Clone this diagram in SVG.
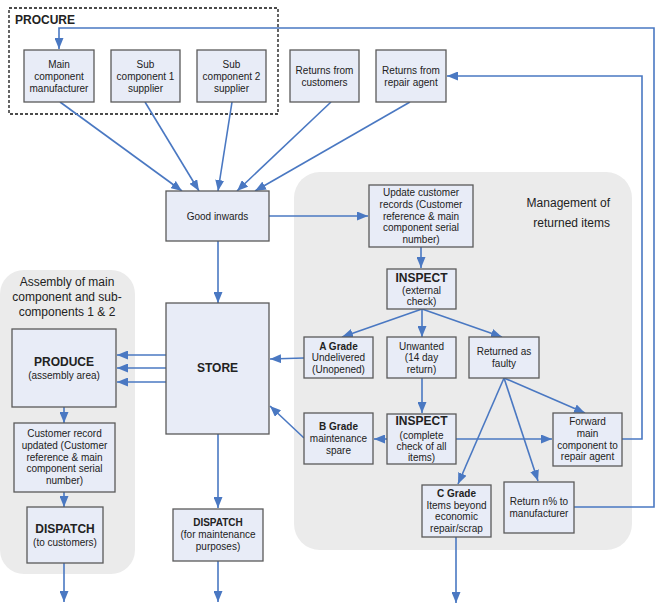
<svg xmlns="http://www.w3.org/2000/svg" width="658" height="612" viewBox="0 0 658 612">
<style>
.region{fill:#ebebeb;stroke:none}
.box{fill:#e8ecf7;stroke:#5a5a5a;stroke-width:1.3}
text{font-family:"Liberation Sans",Arial,sans-serif;fill:#222;text-anchor:middle}
.t{font-size:10px}
.tb{font-size:10px;font-weight:bold}
.h{font-size:12px;font-weight:bold}
.lbl{font-size:12px}
.c line,.c polyline{stroke:#4a78c2;stroke-width:1.6;fill:none;marker-end:url(#ah)}
</style>
<defs>
<marker id="ah" markerUnits="userSpaceOnUse" markerWidth="11" markerHeight="9" refX="11" refY="4.5" orient="auto">
<path d="M0,0 L11,4.5 L0,9 z" fill="#4a78c2"/>
</marker>
</defs>
<rect width="658" height="612" fill="#fff"/>
<g id="procure">
<rect x="9" y="8" width="269" height="106" fill="none" stroke="#111" stroke-width="1.3" stroke-dasharray="3,2"/>
<text class="h" x="15" y="24" style="text-anchor:start">PROCURE</text>
</g>
<g id="assembly-region">
<rect class="region" x="0" y="270" width="135" height="304" rx="24"/>
<text class="lbl" x="67" y="285.5">Assembly of main</text>
<text class="lbl" x="67" y="300.5">component and sub-</text>
<text class="lbl" x="67" y="315.5">components 1 &amp; 2</text>
</g>
<g id="management-region">
<rect class="region" x="294" y="172" width="338" height="378" rx="26"/>
<text class="lbl" x="610" y="207" style="text-anchor:end">Management of</text>
<text class="lbl" x="610" y="227" style="text-anchor:end">returned items</text>
</g>
<g class="c" id="connectors">
<line x1="60" y1="102" x2="182" y2="191"/>
<line x1="145" y1="102" x2="199" y2="191"/>
<line x1="232" y1="102" x2="218" y2="191"/>
<line x1="331" y1="102" x2="237" y2="191"/>
<line x1="410" y1="102" x2="255" y2="191"/>
<line x1="269" y1="216" x2="368" y2="216"/>
<line x1="218" y1="241" x2="218" y2="303"/>
<line x1="421" y1="247" x2="421" y2="268"/>
<line x1="422" y1="309" x2="342" y2="337"/>
<line x1="422" y1="309" x2="422" y2="337"/>
<line x1="422" y1="309" x2="502" y2="337"/>
<line x1="304" y1="358" x2="270" y2="359"/>
<line x1="166" y1="355" x2="117" y2="355"/>
<line x1="166" y1="368" x2="117" y2="368"/>
<line x1="166" y1="382" x2="117" y2="382"/>
<line x1="64" y1="407" x2="64" y2="423"/>
<line x1="64" y1="492" x2="64" y2="507"/>
<line x1="64" y1="563" x2="64" y2="602"/>
<line x1="218" y1="434" x2="218" y2="508"/>
<line x1="218" y1="561" x2="218" y2="602"/>
<line x1="422" y1="378" x2="422" y2="413"/>
<line x1="387" y1="439" x2="374" y2="439"/>
<line x1="304" y1="438" x2="270" y2="406"/>
<line x1="456" y1="439" x2="552" y2="439"/>
<line x1="504" y1="378" x2="585" y2="413"/>
<line x1="504" y1="378" x2="458" y2="484"/>
<line x1="504" y1="378" x2="538" y2="481"/>
<line x1="456" y1="537" x2="456" y2="603"/>
<polyline points="622,439 642,439 642,76 447,76"/>
<polyline points="574,507 654,507 654,28 59,28 59,49"/>
</g>
<g id="main-component-manufacturer">
<rect class="box" x="24" y="50" width="70" height="52"/>
<text class="t" x="59" y="67.5">Main</text>
<text class="t" x="59" y="79.5">component</text>
<text class="t" x="59" y="91.5">manufacturer</text>
</g>
<g id="sub-component-1">
<rect class="box" x="111" y="50" width="69" height="52"/>
<text class="t" x="145.5" y="67.5">Sub</text>
<text class="t" x="145.5" y="79.5">component 1</text>
<text class="t" x="145.5" y="91.5">supplier</text>
</g>
<g id="sub-component-2">
<rect class="box" x="197" y="50" width="69" height="52"/>
<text class="t" x="231.5" y="67.5">Sub</text>
<text class="t" x="231.5" y="79.5">component 2</text>
<text class="t" x="231.5" y="91.5">supplier</text>
</g>
<g id="returns-customers">
<rect class="box" x="290" y="50" width="69" height="52"/>
<text class="t" x="324.5" y="73.5">Returns from</text>
<text class="t" x="324.5" y="85.5">customers</text>
</g>
<g id="returns-repair-agent">
<rect class="box" x="376" y="50" width="70" height="52"/>
<text class="t" x="411" y="73.5">Returns from</text>
<text class="t" x="411" y="85.5">repair agent</text>
</g>
<g id="good-inwards">
<rect class="box" x="166" y="191" width="103" height="50"/>
<text class="t" x="217.5" y="219.5">Good inwards</text>
</g>
<g id="update-records">
<rect class="box" x="369" y="185" width="104" height="62"/>
<text class="t" x="421" y="196">Update customer</text>
<text class="t" x="421" y="208">records (Customer</text>
<text class="t" x="421" y="219.5">reference &amp; main</text>
<text class="t" x="421" y="231">component serial</text>
<text class="t" x="421" y="243">number)</text>
</g>
<g id="inspect-external">
<rect class="box" x="387" y="269" width="69" height="40"/>
<text class="h" x="421.5" y="281.5">INSPECT</text>
<text class="t" x="421.5" y="294">(external</text>
<text class="t" x="421.5" y="305">check)</text>
</g>
<g id="store">
<rect class="box" x="166" y="303" width="103" height="131"/>
<text class="h" x="217.5" y="372">STORE</text>
</g>
<g id="produce">
<rect class="box" x="12" y="329" width="104" height="78"/>
<text class="h" x="64" y="366">PRODUCE</text>
<text class="t" x="64" y="378.5">(assembly area)</text>
</g>
<g id="customer-record">
<rect class="box" x="14" y="423" width="101" height="69"/>
<text class="t" x="64.5" y="437">Customer record</text>
<text class="t" x="64.5" y="449">updated (Customer</text>
<text class="t" x="64.5" y="460.5">reference &amp; main</text>
<text class="t" x="64.5" y="472">component serial</text>
<text class="t" x="64.5" y="484">number)</text>
</g>
<g id="dispatch-customers">
<rect class="box" x="27" y="507" width="76" height="56"/>
<text class="h" x="65" y="533.3">DISPATCH</text>
<text class="t" x="65" y="545.8">(to customers)</text>
</g>
<g id="dispatch-maintenance">
<rect class="box" x="173" y="509" width="90" height="52"/>
<text class="tb" x="218" y="526.2">DISPATCH</text>
<text class="t" x="218" y="537.8">(for maintenance</text>
<text class="t" x="218" y="549.8">purposes)</text>
</g>
<g id="a-grade">
<rect class="box" x="304" y="337" width="69" height="41"/>
<text class="tb" x="338.5" y="349.5">A Grade</text>
<text class="t" x="338.5" y="361">Undelivered</text>
<text class="t" x="338.5" y="372.5">(Unopened)</text>
</g>
<g id="unwanted">
<rect class="box" x="387" y="337" width="69" height="41"/>
<text class="t" x="421.5" y="349.5">Unwanted</text>
<text class="t" x="421.5" y="361">(14 day</text>
<text class="t" x="421.5" y="372.5">return)</text>
</g>
<g id="returned-faulty">
<rect class="box" x="469" y="337" width="70" height="41"/>
<text class="t" x="504" y="355">Returned as</text>
<text class="t" x="504" y="366.5">faulty</text>
</g>
<g id="b-grade">
<rect class="box" x="304" y="413" width="69" height="51"/>
<text class="tb" x="338.5" y="430">B Grade</text>
<text class="t" x="338.5" y="442">maintenance</text>
<text class="t" x="338.5" y="453.5">spare</text>
</g>
<g id="inspect-complete">
<rect class="box" x="387" y="414" width="69" height="50"/>
<text class="h" x="421.5" y="425.3">INSPECT</text>
<text class="t" x="421.5" y="438.5">(complete</text>
<text class="t" x="421.5" y="450">check of all</text>
<text class="t" x="421.5" y="461">items)</text>
</g>
<g id="forward-repair">
<rect class="box" x="553" y="413" width="69" height="53"/>
<text class="t" x="587.5" y="425">Forward</text>
<text class="t" x="587.5" y="437">main</text>
<text class="t" x="587.5" y="449">component to</text>
<text class="t" x="587.5" y="460">repair agent</text>
</g>
<g id="c-grade">
<rect class="box" x="422" y="485" width="69" height="52"/>
<text class="tb" x="456.5" y="497">C Grade</text>
<text class="t" x="456.5" y="508.5">Items beyond</text>
<text class="t" x="456.5" y="520">economic</text>
<text class="t" x="456.5" y="532">repair/scrap</text>
</g>
<g id="return-manufacturer">
<rect class="box" x="504" y="482" width="70" height="51"/>
<text class="t" x="539" y="505">Return n% to</text>
<text class="t" x="539" y="517">manufacturer</text>
</g>
</svg>
